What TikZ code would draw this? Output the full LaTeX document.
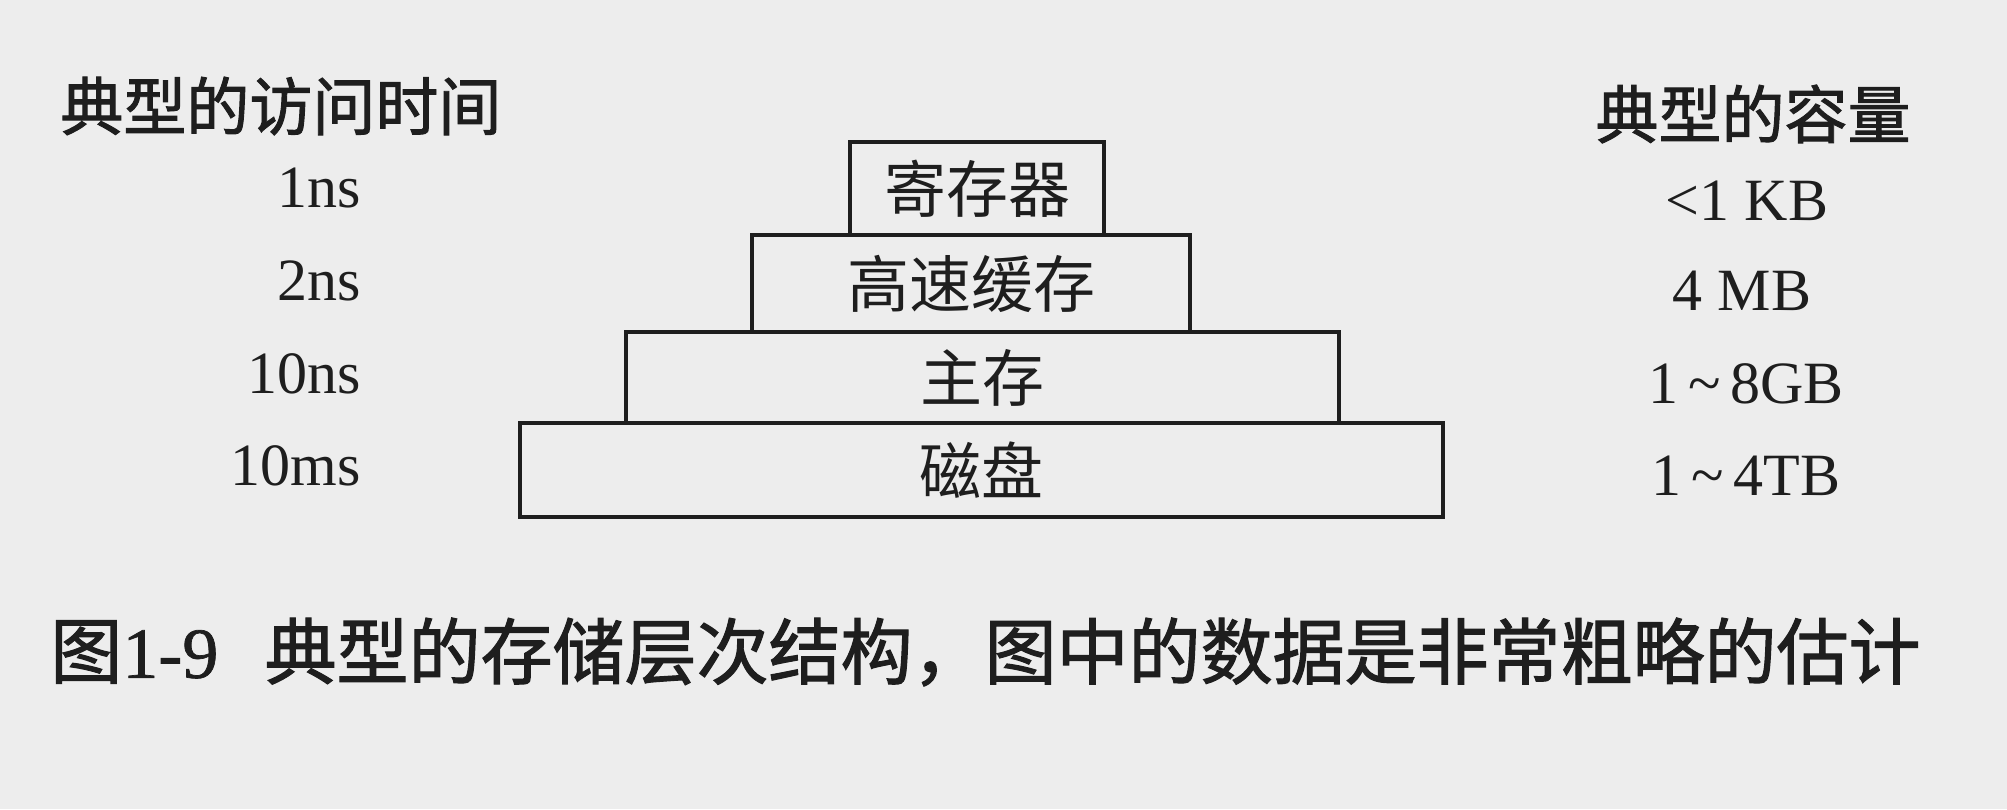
\documentclass[tikz,border=0pt]{standalone}
\usepackage{fontspec}
\setmainfont{Liberation Serif}
\newfontfamily\cjk{Noto Sans CJK SC}
\newfontfamily\cjkbold[FakeBold=1.5]{Noto Sans CJK SC}
\definecolor{paper}{RGB}{237,237,237}
\definecolor{ink}{RGB}{30,30,30}
\begin{document}
\begin{tikzpicture}[x=0.5pt, y=-0.5pt,
  box/.style={draw=ink, line width=1.6pt, inner sep=0pt, text=ink,
    font=\cjk\fontsize{31}{31}\selectfont},
  lbl/.style={inner sep=0pt, text=ink, font=\fontsize{30}{30}\selectfont},
  head/.style={inner sep=0pt, text=ink, font=\cjkbold\fontsize{31.5}{32}\selectfont},
  captext/.style={inner sep=0pt, text=ink, font=\cjkbold\fontsize{36}{36}\selectfont}]
\useasboundingbox (0,0) rectangle (2007,809);
\fill[paper] (0,0) rectangle (2007,809);
% boxes
\node[box, minimum width=127pt, minimum height=46.5pt] (reg) at (977,188.5) {寄存器};
\node[box, minimum width=219pt, minimum height=48.5pt] (cache) at (971,283.5) {高速缓存};
\node[box, minimum width=356.5pt, minimum height=45.5pt] (mem) at (982.5,377.5) {主存};
\node[box, minimum width=461.5pt, minimum height=47pt] (disk) at (981.5,470) {磁盘};
% headers
\node[head, anchor=west] (htime) at (60,106) {典型的访问时间};
\node[head] (hcap) at (1753,114) {典型的容量};
% access times
\node[lbl, anchor=base east] (t1) at (361,207) {1ns};
\node[lbl, anchor=base east] (t2) at (361,300) {2ns};
\node[lbl, anchor=base east] (t3) at (361,393) {10ns};
\node[lbl, anchor=base east] (t4) at (361,485) {10ms};
% capacities
\node[lbl, anchor=base] (c1) at (1747,220) {<1 KB};
\node[lbl, anchor=base] (c2) at (1742,310) {4 MB};
\node[lbl, anchor=base] (c3) at (1746,403) {1\,\textasciitilde\,8GB};
\node[lbl, anchor=base] (c4) at (1746,495) {1\,\textasciitilde\,4TB};
% caption
\node[captext, anchor=west] (fignum) at (50,652) {图{\rmfamily\addfontfeature{FakeBold=1}1-9}};
\node[captext, anchor=east] (captxt) at (1921,652) {典型的存储层次结构，图中的数据是非常粗略的估计};
\end{tikzpicture}
\end{document}
